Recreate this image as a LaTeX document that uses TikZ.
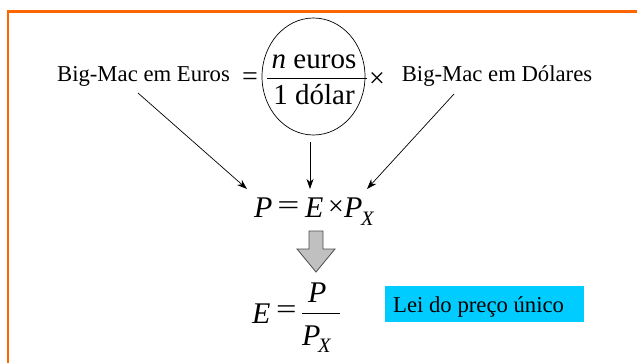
\documentclass[tikz,border=0pt]{standalone}
\usepackage{graphicx}
\usepackage{fontspec}
\setmainfont{Liberation Serif}
\usetikzlibrary{arrows.meta,shapes.geometric}
\definecolor{frameorange}{RGB}{255,102,0}
\definecolor{lawblue}{RGB}{0,204,255}
\definecolor{blockgray}{RGB}{192,192,192}
\tikzset{
  lbl/.style={inner sep=0pt, font=\fontsize{22.7}{26}\selectfont, anchor=base},
  fr/.style={inner sep=0pt, font=\fontsize{29}{32}\selectfont, anchor=base},
  sym/.style={inner sep=0pt, font=\fontsize{28}{32}\selectfont, anchor=center},
  var/.style={inner sep=0pt, font=\fontsize{30}{32}\selectfont\itshape, anchor=base west},
  sub/.style={inner sep=0pt, font=\fontsize{20.5}{22}\selectfont\itshape, anchor=base west},
  conn/.style={line width=0.7pt, -{Stealth[length=10pt,width=7pt,inset=3pt]}},
}
\begin{document}
\begin{tikzpicture}[x=1pt,y=-1pt]
\useasboundingbox (0,0) rectangle (637,362);
% orange frame
\draw[frameorange, line width=2.3pt] (8,370) -- (8,11.5) -- (645,11.5);
% top row
\node[lbl] (eur) at (143.5,81) {Big-Mac em Euros};
\node[sym] (eqs) at (250,79) {=};
\node[draw, ellipse, line width=0.7pt, minimum width=103pt, minimum height=117pt, inner sep=0pt] (ell) at (313.5,76.5) {};
\node[fr] (num) at (314,68) {\textit{n} euros};
\node[fr] (den) at (314,104) {1 dólar};
\coordinate (fl) at (267,78);
\coordinate (frr) at (367,78);
\draw[line width=0.8pt] (fl) -- (frr);
\node[sym] (times) at (377,80) {×};
\node[lbl] (usd) at (497,81) {Big-Mac em Dólares};
% equation 1
\node[var] (p1) at (254,217) {P};
\node[sym] (e1eq) at (288.5,208.5) {\scalebox{1.4}[1]{=}};
\node[var] (e1) at (305,217) {E};
\node[sym] (e1x) at (336,208) {×};
\node[var] (p2) at (344,217) {P};
\node[sub] (x1) at (361,225) {X};
% arrows
\coordinate (a1s) at (138,93);
\coordinate (a1e) at (247,189);
\coordinate (a2s) at (310,142);
\coordinate (a2e) at (310,189);
\coordinate (a3s) at (454,94);
\coordinate (a3e) at (367,189);
\draw[conn] (a1s) -- (a1e);
\draw[conn] (a2s) -- (a2e);
\draw[conn] (a3s) -- (a3e);
% block arrow
\draw[fill=blockgray, draw=black!70, line width=0.8pt]
  (309,231) -- (323,231) -- (323,249) -- (335,249) -- (316,272) -- (297,249) -- (309,249) -- cycle;
% equation 2
\node[var] (e2) at (252,323) {E};
\node[sym] (e2eq) at (286.5,312.5) {\scalebox{1.3}[1]{=}};
\node[var] (pn) at (308,302) {P};
\coordinate (l2a) at (302,313);
\coordinate (l2b) at (340,313);
\draw[line width=0.8pt] (l2a) -- (l2b);
\node[var] (pd) at (302,345) {P};
\node[sub] (x2) at (318,352) {X};
% law box
\fill[lawblue] (385,286) rectangle (584,322);
\node[lbl, anchor=base west] (law) at (393,312) {Lei do preço único};
\end{tikzpicture}
\end{document}
